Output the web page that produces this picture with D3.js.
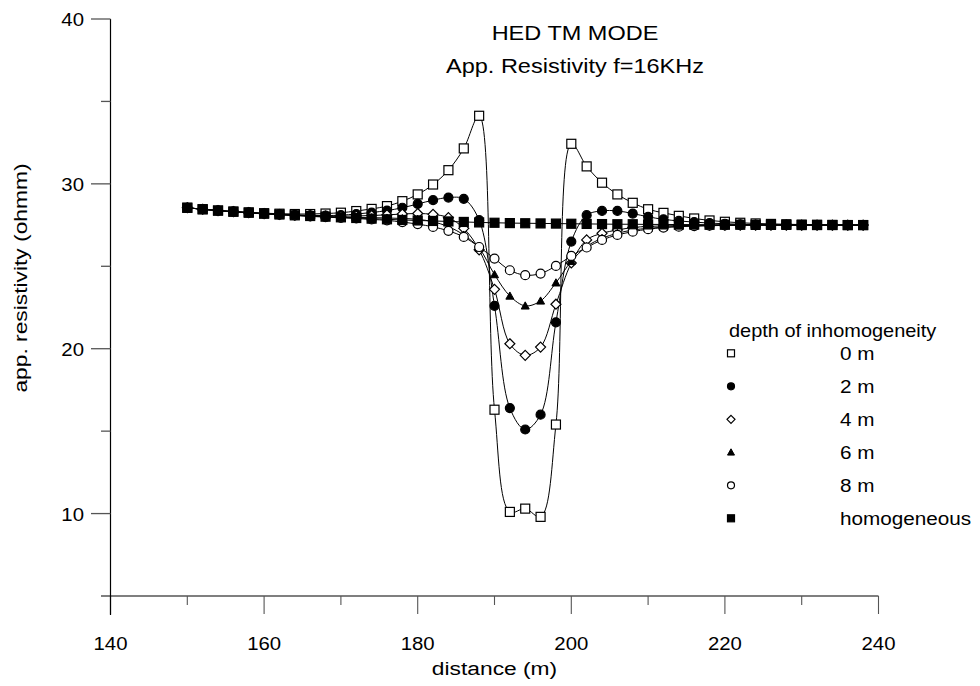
<!DOCTYPE html>
<html><head><meta charset="utf-8">
<script src="https://cdn.jsdelivr.net/npm/d3@7"></script>
<style>
body{margin:0;background:#fff;}
text{font-family:Arial,"Liberation Sans",sans-serif;fill:#000;}
</style></head><body>
<svg id="c" width="980" height="686"></svg>
<script>
const distances = [150,152,154,156,158,160,162,164,166,168,170,172,174,176,178,180,182,184,186,188,190,192,194,196,198,200,202,204,206,208,210,212,214,216,218,220,222,224,226,228,230,232,234,236,238];
const depth0 = [28.55,28.46,28.38,28.32,28.27,28.22,28.19,28.17,28.17,28.2,28.25,28.35,28.48,28.65,28.95,29.36,29.96,30.83,32.15,34.13,16.3,10.1,10.3,9.8,15.4,32.43,31.06,30.07,29.36,28.85,28.46,28.24,28.06,27.9,27.78,27.7,27.64,27.6,27.57,27.55,27.53,27.52,27.51,27.5,27.5];
const depth2 = [28.55,28.46,28.38,28.31,28.25,28.2,28.15,28.11,28.09,28.08,28.1,28.17,28.26,28.38,28.55,28.78,29.01,29.17,29.09,27.8,22.6,16.4,15.1,16.0,21.6,26.5,28.1,28.36,28.36,28.2,28.0,27.85,27.75,27.68,27.62,27.58,27.55,27.53,27.52,27.51,27.5,27.5,27.5,27.5,27.5];
const depth4 = [28.55,28.46,28.38,28.31,28.25,28.19,28.14,28.1,28.07,28.05,28.04,28.05,28.08,28.12,28.17,28.2,28.15,27.95,27.3,26.0,23.6,20.3,19.6,20.1,22.7,25.2,26.6,27.0,27.2,27.35,27.42,27.45,27.47,27.48,27.49,27.5,27.5,27.5,27.5,27.5,27.5,27.5,27.5,27.5,27.5];
const depth6 = [28.55,28.46,28.38,28.31,28.25,28.19,28.14,28.09,28.05,28.01,27.98,27.96,27.95,27.93,27.9,27.85,27.7,27.4,26.9,26.1,24.5,23.2,22.6,22.9,24.0,25.3,26.2,26.7,27.0,27.2,27.3,27.37,27.42,27.45,27.47,27.48,27.49,27.5,27.5,27.5,27.5,27.5,27.5,27.5,27.5];
const depth8 = [28.55,28.46,28.38,28.31,28.25,28.19,28.13,28.08,28.03,27.98,27.94,27.9,27.84,27.79,27.68,27.56,27.39,27.15,26.78,26.17,25.47,24.76,24.46,24.56,25.02,25.63,26.14,26.6,26.9,27.1,27.25,27.35,27.4,27.44,27.46,27.48,27.49,27.5,27.5,27.5,27.5,27.5,27.5,27.5,27.5];
const homogeneous = [28.55,28.46,28.38,28.31,28.25,28.19,28.14,28.09,28.05,28.01,27.97,27.93,27.89,27.85,27.81,27.78,27.75,27.72,27.69,27.66,27.64,27.62,27.61,27.6,27.59,27.58,27.57,27.56,27.55,27.55,27.54,27.54,27.53,27.53,27.52,27.52,27.52,27.51,27.51,27.51,27.5,27.5,27.5,27.5,27.5];
const seriesNames = ["0 m","2 m","4 m","6 m","8 m","homogeneous"];
const seriesSymbols = ["squareOpen","circleFilled","diamondOpen","triangleFilled","circleOpen","squareFilled"];
const xTicks = [140,160,180,200,220,240];
const yTicks = [10,20,30,40];
const titleLines = ["HED TM MODE","App. Resistivity f=16KHz"];
const legendTitle = "depth of inhomogeneity";

const allSeries = [depth0,depth2,depth4,depth6,depth8,homogeneous];
const svg = d3.select("#c");
const x = d3.scaleLinear().domain([140,240]).range([110.5,878.5]);
const y = d3.scaleLinear().domain([5,40]).range([596,19]);

function txt(px,py,str,size,anchor,sx){
  return svg.append("text").attr("transform",`translate(${px},${py}) scale(${sx||1.1},1)`)
    .attr("text-anchor",anchor||"start").attr("font-size",size).text(str);
}

const axisCol = "#555";
const gx = svg.append("g").attr("transform","translate(0,596)");
gx.append("line").attr("x1",101).attr("x2",x(240)).attr("stroke",axisCol).attr("stroke-width",1.3);
const xMinor = d3.range(150,240,20);
gx.selectAll(".xmaj").data(xTicks).join("line").attr("x1",d=>x(d)).attr("x2",d=>x(d)).attr("y1",0).attr("y2",18).attr("stroke",d=>d===140?"#000":axisCol).attr("stroke-width",1.1);
gx.selectAll(".xmin").data(xMinor).join("line").attr("x1",d=>x(d)).attr("x2",d=>x(d)).attr("y1",0).attr("y2",9).attr("stroke",axisCol).attr("stroke-width",1.1);
xTicks.forEach(d=>txt(x(d),650,d,18.5,"middle",1.1));
txt(x(190),675,"distance (m)",19,"middle",1.2);

const gy = svg.append("g");
gy.append("line").attr("x1",110.5).attr("x2",110.5).attr("y1",y(40)).attr("y2",615).attr("stroke","#000").attr("stroke-width",1.2);
const yMinor = [15,25,35];
gy.selectAll(".ymaj").data(yTicks).join("line").attr("x1",91).attr("x2",110.5).attr("y1",d=>y(d)).attr("y2",d=>y(d)).attr("stroke",axisCol).attr("stroke-width",1.3);
gy.selectAll(".ymin").data(yMinor).join("line").attr("x1",101).attr("x2",110.5).attr("y1",d=>y(d)).attr("y2",d=>y(d)).attr("stroke",axisCol).attr("stroke-width",1.3);
yTicks.forEach(d=>txt(84,y(d)+7,d,18.5,"end",1.1));
svg.append("text").attr("transform","translate(27,"+278+") rotate(-90) scale(1.2,1)").attr("text-anchor","middle").attr("font-size",19).text("app. resistivity (ohmm)");

txt(575,40,titleLines[0],21,"middle",1.12);
txt(575,73,titleLines[1],21,"middle",1.12);

const line = d3.line().x((d,i)=>x(distances[i])).y(d=>y(d)).curve(d3.curveCatmullRom.alpha(0.5));
allSeries.forEach((s,k)=>{
  svg.append("path").attr("d",line(s)).attr("fill","none").attr("stroke","#000").attr("stroke-width",1);
});

function drawSymbol(g,type,cx,cy,sz){
  const s = sz;
  if(type==="squareOpen"||type==="squareFilled"){
    g.append("rect").attr("x",cx-s/2).attr("y",cy-s/2).attr("width",s).attr("height",s)
     .attr("fill",type==="squareFilled"?"#000":"#fff").attr("stroke","#000").attr("stroke-width",1.2);
  } else if(type==="circleOpen"||type==="circleFilled"){
    g.append("circle").attr("cx",cx).attr("cy",cy).attr("r",s/2)
     .attr("fill",type==="circleFilled"?"#000":"#fff").attr("stroke","#000").attr("stroke-width",1.2);
  } else if(type==="diamondOpen"){
    const h=s/2+0.5;
    g.append("path").attr("d",`M${cx},${cy-h}L${cx+h},${cy}L${cx},${cy+h}L${cx-h},${cy}Z`).attr("fill","#fff").attr("stroke","#000").attr("stroke-width",1.2);
  } else if(type==="triangleFilled"){
    const h=s/2;
    g.append("path").attr("d",`M${cx},${cy-h}L${cx+h},${cy+h*0.8}L${cx-h},${cy+h*0.8}Z`).attr("fill","#000").attr("stroke","#000").attr("stroke-width",1);
  }
}
allSeries.forEach((s,k)=>{
  const g = svg.append("g");
  s.forEach((v,i)=>drawSymbol(g,seriesSymbols[k],x(distances[i]),y(v),k===3?8:9));
});

txt(729,337,legendTitle,17.5,"start",1.14);
seriesNames.forEach((n,k)=>{
  const cy = 353.3 + k*33;
  drawSymbol(svg.append("g"),seriesSymbols[k],731,cy,7);
  txt(840,cy+7,n,18.5,"start",1.12);
});
</script></body></html>
